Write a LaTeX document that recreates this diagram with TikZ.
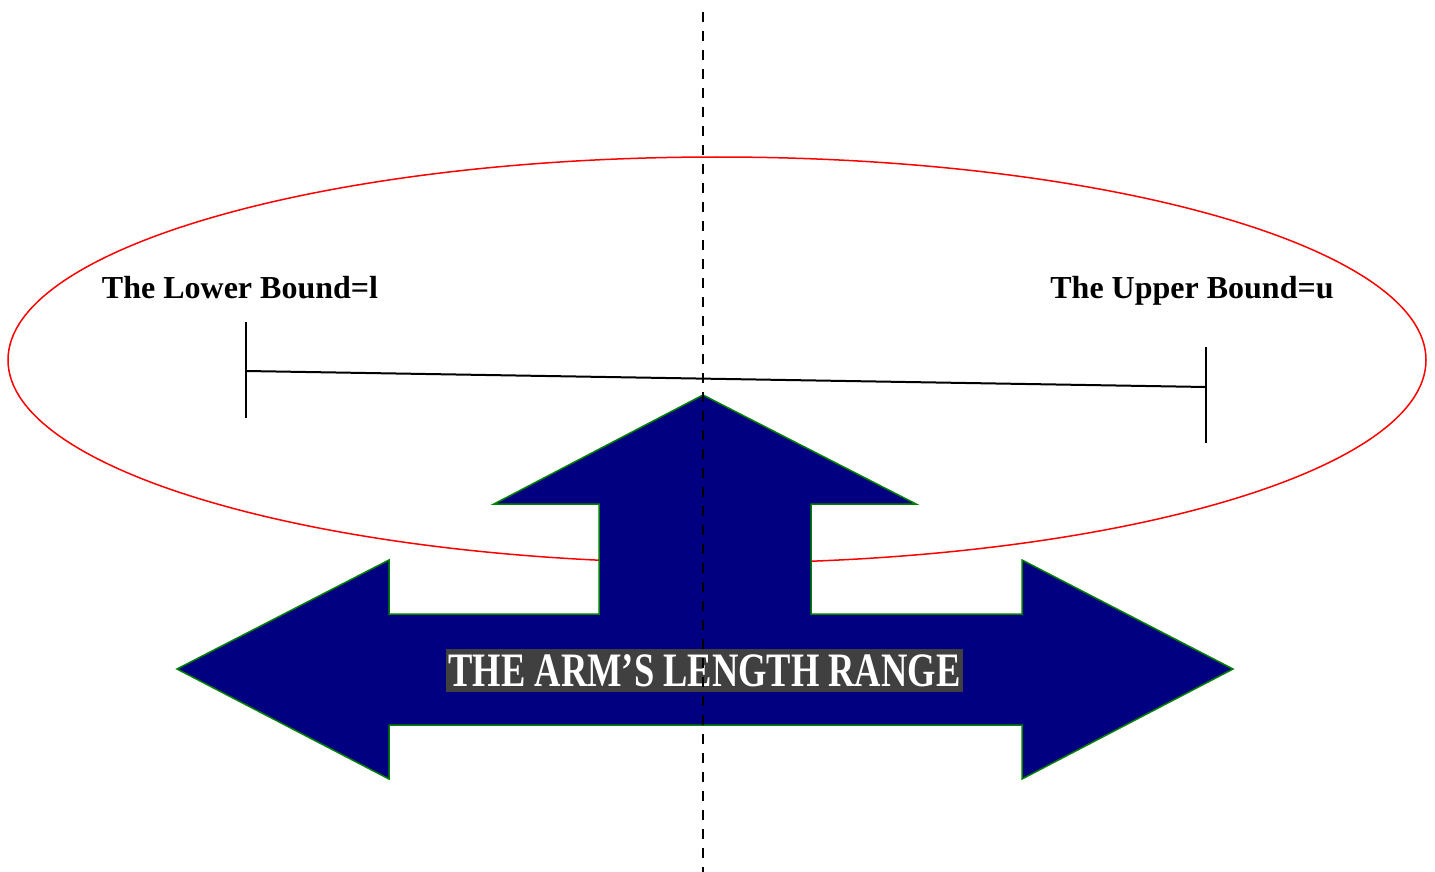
\documentclass[tikz,border=0pt]{standalone}
\usepackage{fontspec}
\setmainfont{Liberation Serif}
\usepackage{tikz}
\definecolor{arrownavy}{RGB}{0, 0, 128}
\definecolor{arrowgreen}{RGB}{0, 128, 0}
\definecolor{labelgray}{RGB}{64, 64, 64}

\begin{document}
\begin{tikzpicture}[
			x=1pt, y=-1pt,
			rangeoval/.style={draw=red, line width=1.5pt},
			bigarrow/.style={draw=arrowgreen, line width=1.5pt, fill=arrownavy, line join=miter},
			boundline/.style={draw=black, line width=2pt},
			boundlabel/.style={font=\fontsize{32}{38}\selectfont\bfseries, inner sep=0pt, anchor=base},
			rangelabel/.style={fill=labelgray, text=white, inner sep=0pt, minimum width=517pt, minimum height=43pt, font=\fontsize{48}{52}\selectfont\bfseries},
			axisline/.style={draw=black, line width=2.8pt, dash pattern=on 10pt off 9pt}
			]
			\useasboundingbox (0,0) rectangle (1435,872);
			
			% Ellisse del range
			\draw[rangeoval] (717,360) ellipse [x radius=709, y radius=203];
			
			% Freccia a tre punte
			\draw[bigarrow] (703,395) -- (916,504) -- (811,504) -- (811,614) -- (1022,614) -- (1022,560)
				-- (1233,669) -- (1022,779) -- (1022,725) -- (389,725) -- (389,779) -- (177,669)
				-- (389,560) -- (389,614) -- (599,614) -- (599,504) -- (494,504) -- cycle;
			
			% Limiti inferiore e superiore
			\coordinate (lower) at (246,371);
			\coordinate (upper) at (1206,387);
			\draw[boundline] (lower) -- (upper);
			\draw[boundline] ([yshift=-47pt]lower) -- ([yshift=49pt]lower);
			\draw[boundline] ([yshift=-56pt]upper) -- ([yshift=40pt]upper);
			\node[boundlabel] (lowerlabel) at (240,298) {The Lower Bound=l};
			\node[boundlabel] (upperlabel) at (1192,298) {The Upper Bound=u};
			
			% Etichetta della freccia
			\node[rangelabel] (range) at (704.5,670.5) {\scalebox{0.76}[1]{THE ARM’S LENGTH RANGE}};
			
			% Asse verticale tratteggiato
			\coordinate (axistop) at (703,12);
			\coordinate (axisbottom) at (703,872);
			\draw[axisline] (axistop) -- (axisbottom);
			
		\end{tikzpicture}
\end{document}
